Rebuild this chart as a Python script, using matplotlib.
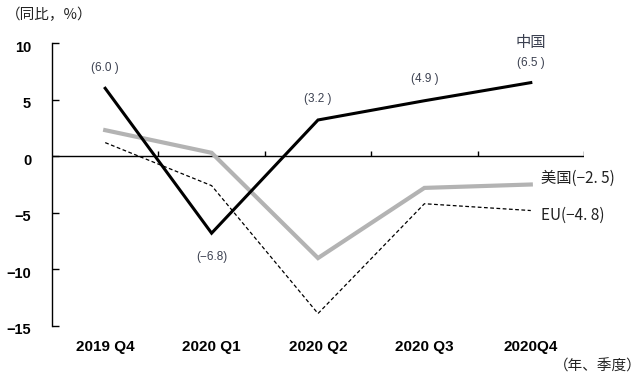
import matplotlib
matplotlib.use("Agg")
import matplotlib.pyplot as plt
import matplotlib.transforms as mtransforms

categories = ["2019 Q4", "2020 Q1", "2020 Q2", "2020 Q3", "2020Q4"]
china = [6.0, -6.8, 3.2, 4.9, 6.5]
usa = [2.3, 0.3, -9.0, -2.8, -2.5]
eu = [1.2, -2.6, -13.9, -4.2, -4.8]
china_labels = ["(6.0 )", "(-6.8)", "(3.2 )", "(4.9 )", "(6.5 )"]
yticks = [10, 5, 0, -5, -10, -15]

plt.rcParams['font.family'] = ['Noto Sans CJK JP', 'DejaVu Sans']

fig = plt.figure(figsize=(6.44, 3.80), dpi=100)
ax = fig.add_axes([52/644, 1-326/380, 532/644, 283/380])

x = list(range(len(categories)))
ax.plot(x, usa, color="#b3b3b3", lw=3.0, solid_joinstyle="miter", zorder=2)
ax.plot(x, eu, color="black", lw=0.9, ls=(0, (3, 2)), zorder=3)
ax.plot(x, china, color="black", lw=2.2, solid_joinstyle="miter", zorder=4)

ax.set_xlim(-0.5, len(categories) - 0.5)
ax.set_ylim(-15, 10)

ax.axhline(0, color="black", lw=1.0, zorder=1)
ax.vlines([i + 0.5 for i in range(len(categories))], 0, 0.45, color="black", lw=1.0, zorder=1)

for s in ["top", "right", "bottom"]:
    ax.spines[s].set_visible(False)
ax.spines["left"].set_linewidth(1.0)

ax.set_yticks(yticks)
ax.set_yticklabels([str(v) if v >= 0 else "\u2212" + str(-v) for v in yticks],
                   family="Liberation Sans", fontweight="bold", fontsize=10.5)
ax.tick_params(axis="y", direction="in", length=5, width=1, pad=15)
shift = mtransforms.ScaledTranslation(0, -3/100, fig.dpi_scale_trans)
for lab in ax.get_yticklabels():
    lab.set_transform(lab.get_transform() + shift)
ax.set_xticks(x)
ax.set_xticklabels(categories, family="Liberation Sans", fontweight="bold", fontsize=11)
ax.tick_params(axis="x", length=0, pad=10)

tc = "#3b4050"
offsets = [20, -24, 21, 22, 20]
for i, (v, lab) in enumerate(zip(china, china_labels)):
    ax.annotate(lab.replace("-", "\u2212"), (i, v), xytext=(0, offsets[i] * 0.72),
                textcoords="offset points", ha="center", va="center",
                fontsize=8.5, color=tc, family="Liberation Sans")
ax.annotate("中国", (4, china[4]), xytext=(0, 40 * 0.72), textcoords="offset points",
            ha="center", va="center", fontsize=11, color=tc)
ax.annotate("美国(\u22122. 5)", (4, usa[4]), xytext=(7, 6 * 0.72), textcoords="offset points",
            ha="left", va="center", fontsize=11, color="#222222", annotation_clip=False)
ax.annotate("EU(\u22124. 8)", (4, eu[4]), xytext=(7, -5 * 0.72), textcoords="offset points",
            ha="left", va="center", fontsize=11, color="#222222", annotation_clip=False)

fig.text(6/644, 1-15/380, "（同比，%）", ha="left", va="center", fontsize=10.5, color="#222222")
fig.text(642/644, 1-366/380, "（年、季度）", ha="right", va="center", fontsize=10.5, color="#222222")

fig.savefig("out.png", dpi=100)
